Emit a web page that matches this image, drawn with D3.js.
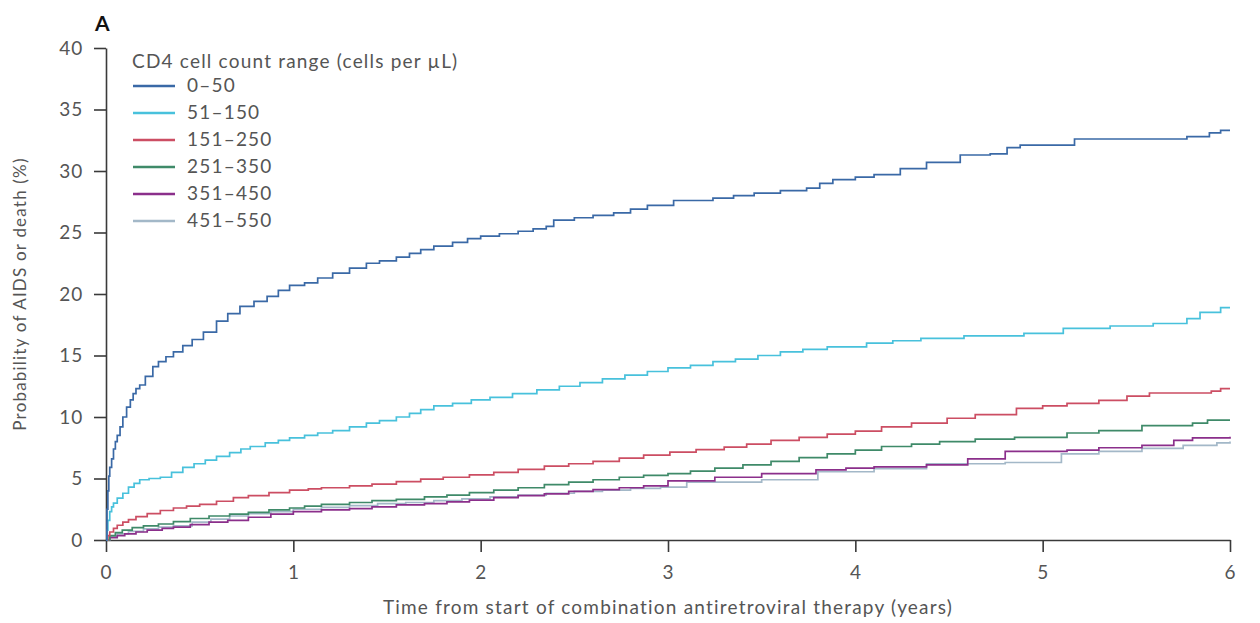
<!DOCTYPE html>
<html>
<head>
<meta charset="utf-8">
<script src="https://cdn.jsdelivr.net/npm/d3@7"></script>
<style>
  html, body { margin: 0; padding: 0; background: #fff; }
  svg { display: block; }
  text { font-family: Lato, "Open Sans", sans-serif; }
</style>
</head>
<body>
<svg id="chart" width="1260" height="623"></svg>
<script>
// ---- Data ----
const seriesNames = ["0–50", "51–150", "151–250", "251–350", "351–450", "451–550"];
const seriesColors = ["#3a69a6", "#48c1dc", "#cc4e63", "#3f8a69", "#8b2f8b", "#a3b8c8"];

const t0_50 = [0, 0.005, 0.01, 0.015, 0.02, 0.03, 0.04, 0.05, 0.06, 0.075, 0.09, 0.11, 0.13, 0.145, 0.16, 0.18, 0.21, 0.25, 0.28, 0.32, 0.36, 0.41, 0.46, 0.52, 0.59, 0.65, 0.715, 0.79, 0.86, 0.92, 0.98, 1.06, 1.13, 1.21, 1.30, 1.39, 1.46, 1.55, 1.62, 1.68, 1.75, 1.85, 1.93, 2.0, 2.1, 2.2, 2.28, 2.35, 2.39, 2.5, 2.6, 2.71, 2.8, 2.89, 3.03, 3.24, 3.35, 3.46, 3.6, 3.74, 3.81, 3.88, 4.0, 4.1, 4.24, 4.38, 4.56, 4.72, 4.81, 4.88, 5.17, 5.77, 5.89, 5.95, 6.0];
const v0_50 = [0, 2.5, 4.0, 5.2, 5.9, 6.6, 7.4, 8.0, 8.5, 9.2, 10.0, 10.8, 11.4, 11.9, 12.3, 12.6, 13.3, 14.1, 14.5, 14.9, 15.3, 15.8, 16.3, 16.9, 17.8, 18.4, 19.0, 19.4, 19.8, 20.3, 20.7, 20.9, 21.3, 21.7, 22.1, 22.5, 22.7, 23.0, 23.3, 23.6, 23.9, 24.2, 24.5, 24.7, 24.9, 25.1, 25.3, 25.5, 26.0, 26.2, 26.4, 26.6, 26.9, 27.2, 27.6, 27.8, 28.0, 28.2, 28.4, 28.6, 29.0, 29.3, 29.5, 29.7, 30.2, 30.7, 31.3, 31.4, 31.9, 32.1, 32.6, 32.8, 33.1, 33.3, 33.3];

const t51_150 = [0, 0.005, 0.01, 0.02, 0.03, 0.04, 0.06, 0.09, 0.12, 0.15, 0.18, 0.23, 0.29, 0.35, 0.41, 0.47, 0.53, 0.59, 0.66, 0.72, 0.77, 0.85, 0.92, 0.98, 1.06, 1.13, 1.21, 1.30, 1.39, 1.46, 1.55, 1.62, 1.68, 1.75, 1.85, 1.95, 2.05, 2.17, 2.3, 2.42, 2.53, 2.65, 2.77, 2.89, 3.0, 3.12, 3.24, 3.36, 3.48, 3.6, 3.72, 3.85, 4.06, 4.2, 4.35, 4.58, 4.9, 5.11, 5.36, 5.59, 5.77, 5.84, 5.95, 6.0];
const v51_150 = [0, 0.8, 1.6, 2.3, 2.7, 3.0, 3.4, 3.8, 4.3, 4.6, 4.9, 5.0, 5.1, 5.5, 5.9, 6.2, 6.5, 6.8, 7.1, 7.4, 7.6, 7.9, 8.1, 8.3, 8.5, 8.7, 8.9, 9.2, 9.5, 9.7, 10.0, 10.3, 10.6, 10.9, 11.1, 11.4, 11.6, 11.9, 12.2, 12.5, 12.8, 13.1, 13.4, 13.7, 14.0, 14.2, 14.5, 14.7, 15.0, 15.3, 15.5, 15.7, 16.0, 16.2, 16.4, 16.6, 16.8, 17.2, 17.4, 17.6, 18.0, 18.5, 18.9, 18.9];

const t151_250 = [0, 0.01, 0.02, 0.04, 0.06, 0.09, 0.12, 0.16, 0.22, 0.29, 0.36, 0.43, 0.5, 0.59, 0.68, 0.76, 0.87, 0.98, 1.08, 1.15, 1.3, 1.42, 1.55, 1.68, 1.8, 1.94, 2.07, 2.2, 2.34, 2.47, 2.6, 2.74, 2.87, 3.01, 3.15, 3.3, 3.42, 3.55, 3.7, 3.85, 4.0, 4.14, 4.3, 4.49, 4.64, 4.86, 5.0, 5.13, 5.3, 5.45, 5.57, 5.9, 5.95, 6.0];
const v151_250 = [0, 0.35, 0.65, 0.95, 1.2, 1.45, 1.65, 1.9, 2.15, 2.4, 2.6, 2.75, 2.9, 3.15, 3.45, 3.6, 3.85, 4.05, 4.15, 4.25, 4.4, 4.55, 4.75, 4.95, 5.1, 5.3, 5.5, 5.75, 6.0, 6.2, 6.4, 6.65, 6.9, 7.15, 7.35, 7.55, 7.8, 8.1, 8.35, 8.6, 8.85, 9.2, 9.5, 9.9, 10.2, 10.7, 10.9, 11.1, 11.35, 11.7, 11.95, 12.1, 12.3, 12.3];

const t251_350 = [0, 0.02, 0.05, 0.087, 0.14, 0.2, 0.28, 0.36, 0.45, 0.55, 0.66, 0.76, 0.87, 0.98, 1.06, 1.15, 1.3, 1.42, 1.55, 1.7, 1.82, 1.94, 2.07, 2.2, 2.34, 2.47, 2.6, 2.74, 2.87, 3.0, 3.12, 3.25, 3.4, 3.55, 3.7, 3.85, 4.0, 4.14, 4.3, 4.45, 4.64, 4.85, 5.13, 5.3, 5.53, 5.8, 5.88, 6.0];
const v251_350 = [0, 0.35, 0.6, 0.8, 1.0, 1.15, 1.3, 1.5, 1.75, 1.95, 2.1, 2.25, 2.45, 2.6, 2.75, 2.9, 3.05, 3.2, 3.3, 3.5, 3.65, 3.85, 4.05, 4.25, 4.5, 4.7, 4.9, 5.1, 5.25, 5.4, 5.6, 5.85, 6.1, 6.4, 6.7, 7.0, 7.3, 7.6, 7.8, 8.0, 8.2, 8.35, 8.7, 8.9, 9.3, 9.5, 9.75, 9.75];

const t351_450 = [0, 0.02, 0.06, 0.1, 0.16, 0.22, 0.3, 0.36, 0.45, 0.55, 0.65, 0.76, 0.88, 1.0, 1.15, 1.3, 1.42, 1.55, 1.7, 1.82, 1.94, 2.07, 2.2, 2.34, 2.47, 2.6, 2.74, 2.87, 3.0, 3.25, 3.5, 3.79, 3.95, 4.1, 4.38, 4.6, 4.8, 5.13, 5.3, 5.53, 5.7, 5.8, 6.0];
const v351_450 = [0, 0.2, 0.35, 0.5, 0.65, 0.8, 0.95, 1.05, 1.25, 1.45, 1.6, 1.85, 2.1, 2.3, 2.45, 2.55, 2.7, 2.85, 2.95, 3.1, 3.25, 3.45, 3.6, 3.75, 3.95, 4.1, 4.25, 4.4, 4.8, 5.1, 5.4, 5.7, 5.85, 5.95, 6.1, 6.6, 7.2, 7.3, 7.5, 7.7, 8.1, 8.3, 8.4];

const t451_550 = [0, 0.02, 0.06, 0.12, 0.2, 0.28, 0.36, 0.46, 0.56, 0.66, 0.76, 0.88, 1.0, 1.15, 1.3, 1.45, 1.6, 1.75, 1.9, 2.05, 2.2, 2.35, 2.5, 2.65, 2.8, 2.96, 3.1, 3.5, 3.8, 4.1, 4.38, 4.8, 5.1, 5.3, 5.53, 5.75, 5.93, 6.0];
const v451_550 = [0, 0.3, 0.5, 0.7, 0.9, 1.05, 1.15, 1.45, 1.7, 1.95, 2.15, 2.3, 2.5, 2.65, 2.8, 2.95, 3.05, 3.2, 3.35, 3.5, 3.65, 3.8, 3.95, 4.05, 4.2, 4.3, 4.7, 4.9, 5.55, 5.8, 6.2, 6.3, 7.0, 7.2, 7.45, 7.7, 7.9, 8.0];

const xTicks = [0, 1, 2, 3, 4, 5, 6];
const yTicks = [0, 5, 10, 15, 20, 25, 30, 35, 40];

const panelLabel = "A";
const legendTitle = "CD4 cell count range (cells per µL)";
const xTitle = "Time from start of combination antiretroviral therapy (years)";
const yTitle = "Probability of AIDS or death (%)";

const seriesTimes = [t0_50, t51_150, t151_250, t251_350, t351_450, t451_550];
const seriesValues = [v0_50, v51_150, v151_250, v251_350, v351_450, v451_550];

// ---- Drawing ----
const svg = d3.select("#chart");
const x = d3.scaleLinear().domain([0, 6]).range([106, 1230]);
const y = d3.scaleLinear().domain([0, 40]).range([540, 48]);

const axisColor = "#3a3a3a";
const labelColor = "#555";
const fontSize = "19px";
const spacing = "1.2px";

// Y axis
const gy = svg.append("g")
  .attr("transform", `translate(${x(0)},0)`)
  .call(d3.axisLeft(y).tickValues(yTicks).tickSize(12).tickSizeOuter(0).tickPadding(11));
// X axis
const gx = svg.append("g")
  .attr("transform", `translate(0,${y(0)})`)
  .call(d3.axisBottom(x).tickValues(xTicks).tickSize(12).tickSizeOuter(0).tickPadding(14).tickFormat(d3.format("d")));

[gx, gy].forEach(g => {
  g.select(".domain").attr("stroke", axisColor).attr("stroke-width", 1.6);
  g.selectAll(".tick line").attr("stroke", axisColor).attr("stroke-width", 1.6);
  g.selectAll(".tick text").attr("fill", labelColor)
    .style("font-size", fontSize).style("letter-spacing", "0.8px")
    .style("font-family", "Lato, sans-serif");
});

// Lines
const line = d3.line()
  .x(d => x(d[0]))
  .y(d => y(d[1]))
  .curve(d3.curveStepAfter);

const order = [5, 4, 3, 2, 1, 0];
order.forEach(i => {
  const pts = seriesTimes[i].map((t, k) => [t, seriesValues[i][k]]);
  svg.append("path")
    .datum(pts)
    .attr("fill", "none")
    .attr("stroke", seriesColors[i])
    .attr("stroke-width", 1.7)
    .attr("d", line);
});

// Panel label
svg.append("text")
  .attr("x", 95).attr("y", 31)
  .attr("fill", "#111")
  .style("font-size", "21px").style("font-weight", "bold")
  .text(panelLabel);

// Legend
const lg = svg.append("g");
lg.append("text")
  .attr("x", 132).attr("y", 68)
  .attr("fill", labelColor)
  .style("font-size", fontSize).style("letter-spacing", spacing)
  .text(legendTitle);
seriesNames.forEach((name, i) => {
  const yy = 86 + i * 27;
  lg.append("line")
    .attr("x1", 133).attr("x2", 175)
    .attr("y1", yy).attr("y2", yy)
    .attr("stroke", seriesColors[i]).attr("stroke-width", 2.4);
  lg.append("text")
    .attr("x", 187).attr("y", yy + 6)
    .attr("fill", labelColor)
    .style("font-size", fontSize).style("letter-spacing", spacing)
    .text(name);
});

// Axis titles
svg.append("text")
  .attr("x", 668).attr("y", 614)
  .attr("text-anchor", "middle")
  .attr("fill", labelColor)
  .style("font-size", fontSize).style("letter-spacing", spacing)
  .text(xTitle);

svg.append("text")
  .attr("transform", `translate(26,${(48 + 540) / 2}) rotate(-90)`)
  .attr("text-anchor", "middle")
  .attr("fill", labelColor)
  .style("font-size", "17px").style("letter-spacing", spacing)
  .text(yTitle);
</script>
</body>
</html>
